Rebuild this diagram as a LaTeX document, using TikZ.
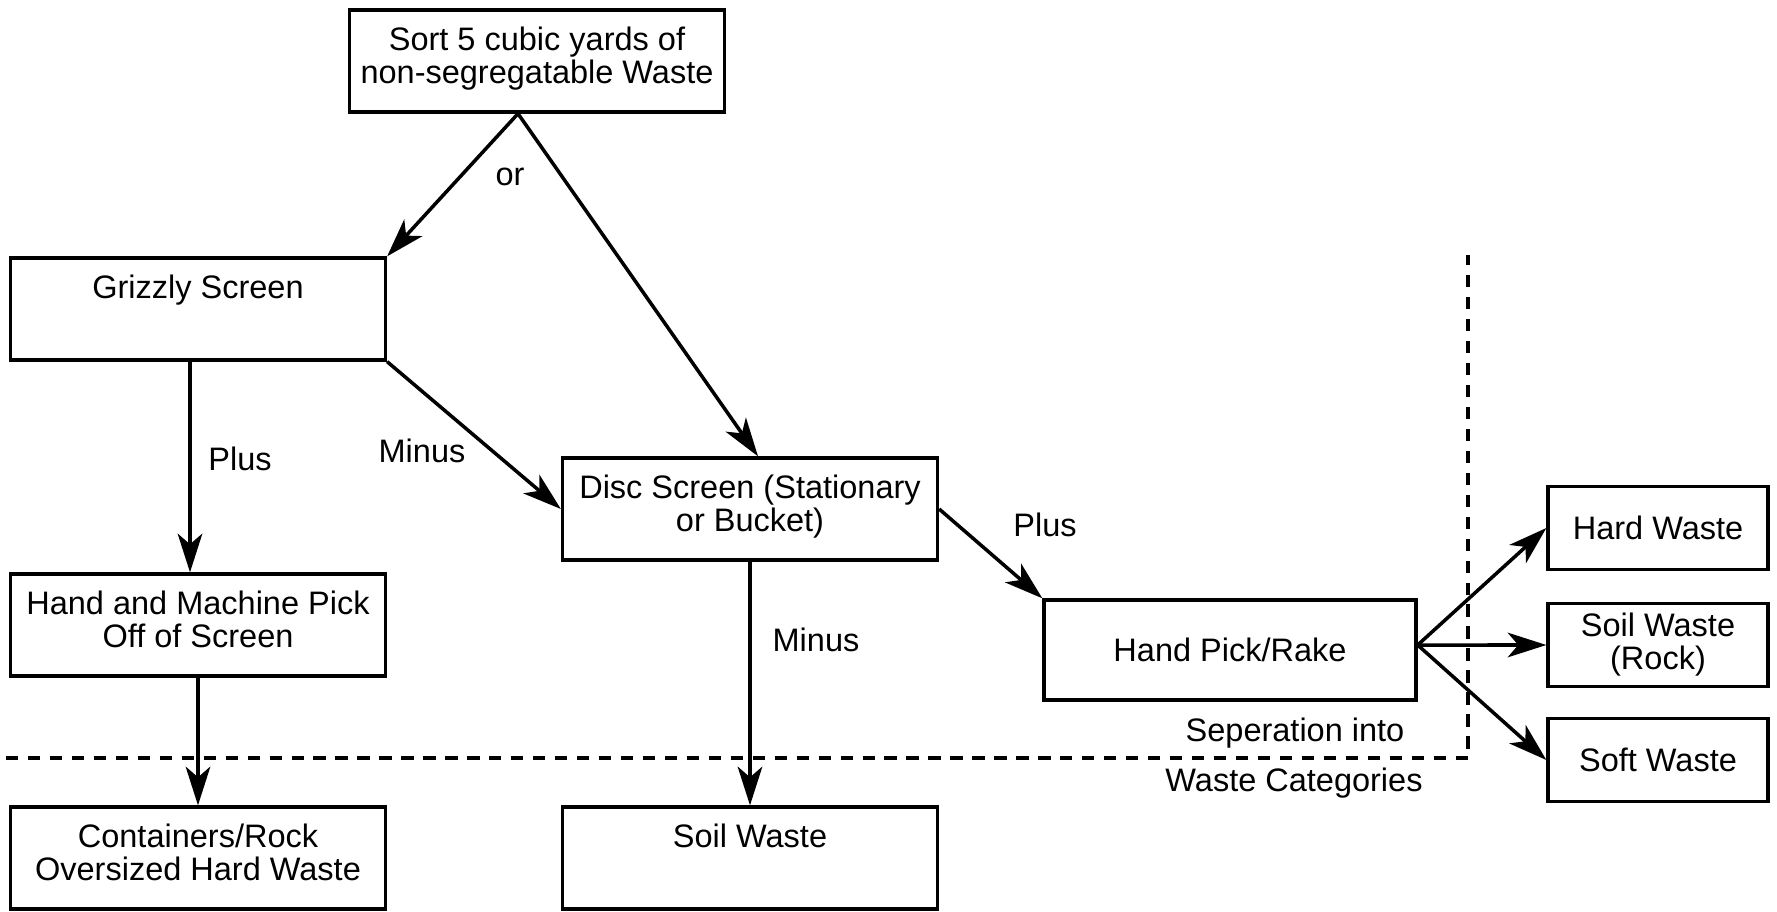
\documentclass[tikz,border=0pt]{standalone}
\usepackage{fontspec}
\setmainfont{Liberation Sans}
\usetikzlibrary{arrows.meta}

\begin{document}
\begin{tikzpicture}[x=0.02cm, y=-0.02cm,
  font=\fontsize{18.5}{18.8}\selectfont,
  bigbox/.style={draw, line width=1.9pt, inner sep=0pt,
    execute at begin node={\begin{minipage}[c][2.04cm][t]{7.5cm}\centering\rule{0pt}{0.8cm}},
    execute at end node={\end{minipage}}},
  catbox/.style={draw, line width=1.9pt, inner sep=0pt, align=center,
    minimum width=4.4cm, minimum height=1.66cm},
  flow/.style={line width=2pt, -{Stealth[length=22pt,width=14pt,inset=6pt]}},
  sepline/.style={line width=2.4pt, dash pattern=on 7pt off 5.5pt}]
\useasboundingbox (0,0) rectangle (1777,912);
% screening steps
\node [bigbox] (sort) at (537,61) {Sort 5 cubic yards of\\non-segregatable Waste};
\node [bigbox] (grizzly) at (198,309) {Grizzly Screen};
\node [bigbox] (pick) at (198,625) {Hand and Machine Pick\\Off of Screen};
\node [bigbox] (oversized) at (198,858) {Containers/Rock\\Oversized Hard Waste};
\node [bigbox] (disc) at (750,509) {Disc Screen (Stationary\\or Bucket)};
\node [bigbox] (soil) at (750,858) {Soil Waste};
\node [catbox, minimum width=7.44cm, minimum height=2cm] (rake) at (1230,650) {Hand Pick/Rake};
% waste categories
\node [catbox] (hard) at (1658,528) {Hard Waste};
\node [catbox] (rock) at (1658,645) {Soil Waste\\(Rock)};
\node [catbox] (soft) at (1658,760) {Soft Waste};
% labels
\node (orlbl) at (510,177) {or};
\node (plusa) at (240,459) {Plus};
\node (minusa) at (422,451) {Minus};
\node (minusb) at (816,640) {Minus};
\node (plusb) at (1045,525) {Plus};
\node (septop) at (1295,733) {Seperation into};
\node (sepbot) at (1294,783) {Waste Categories};
% connectors
\coordinate (fork) at ([xshift=-0.38cm]sort.south);
\coordinate (rakeout) at ([yshift=0.1cm]rake.east);
\draw [flow] (fork) -- (grizzly.north east);
\draw [flow] (fork) -- ([xshift=0.16cm]disc.north);
\draw [flow] ([xshift=-0.16cm]grizzly.south) -- ([xshift=-0.16cm]pick.north);
\draw [flow] (grizzly.south east) -- (disc.west);
\draw [flow] (pick) -- (oversized);
\draw [flow] (disc) -- (soil);
\draw [flow] (disc.east) -- (rake.north west);
\foreach \cat in {hard,rock,soft}
  \draw [flow] (rakeout) -- (\cat.west);
% separation boundary
\coordinate (sepleft) at (6,758);
\coordinate (sepcorner) at (1468,758);
\coordinate (septopend) at (1468,255);
\draw [sepline] (sepleft) -- (sepcorner) -- (septopend);
\end{tikzpicture}
\end{document}
